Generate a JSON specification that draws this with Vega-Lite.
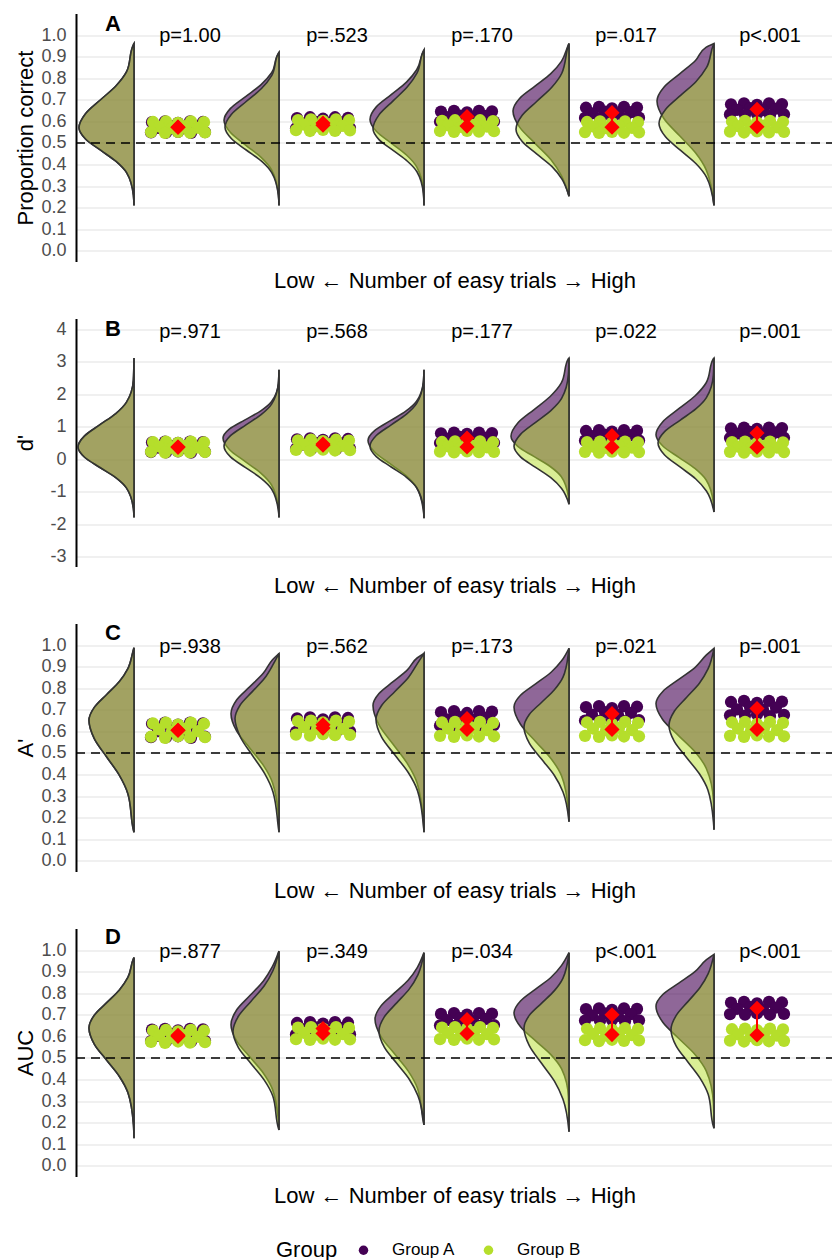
{
"$schema": "https://vega.github.io/schema/vega-lite/v6.json",
"background": "white",
"padding": {"left": 13, "top": 12.5, "right": 0, "bottom": 0},
"bounds": "flush",
"spacing": 57,
"resolve": {"scale": {"x": "independent", "y": "independent", "color": "shared"}, "legend": {"color": "shared"}},
"datasets": {
"vA": [
{"s":"A","b":58,"y":0.21,"x":58},{"s":"A","b":58,"y":0.258,"x":57.4},{"s":"A","b":58,"y":0.362,"x":50.6},{"s":"A","b":58,"y":0.414,"x":40.1},{"s":"A","b":58,"y":0.466,"x":24.6},{"s":"A","b":58,"y":0.518,"x":9.5},{"s":"A","b":58,"y":0.57,"x":3},{"s":"A","b":58,"y":0.635,"x":9.5},{"s":"A","b":58,"y":0.7,"x":24.6},{"s":"A","b":58,"y":0.765,"x":40.1},{"s":"A","b":58,"y":0.83,"x":50.6},{"s":"A","b":58,"y":0.955,"x":57.4},{"s":"A","b":58,"y":0.96,"x":58},
{"s":"B","b":58,"y":0.21,"x":58},{"s":"B","b":58,"y":0.258,"x":57.4},{"s":"B","b":58,"y":0.362,"x":50.6},{"s":"B","b":58,"y":0.414,"x":40.1},{"s":"B","b":58,"y":0.466,"x":24.6},{"s":"B","b":58,"y":0.518,"x":9.5},{"s":"B","b":58,"y":0.57,"x":3},{"s":"B","b":58,"y":0.635,"x":9.5},{"s":"B","b":58,"y":0.7,"x":24.6},{"s":"B","b":58,"y":0.765,"x":40.1},{"s":"B","b":58,"y":0.83,"x":50.6},{"s":"B","b":58,"y":0.955,"x":57.4},{"s":"B","b":58,"y":0.96,"x":58},
{"s":"A","b":203,"y":0.21,"x":203},{"s":"A","b":203,"y":0.26,"x":202.4},{"s":"A","b":203,"y":0.375,"x":195.6},{"s":"A","b":203,"y":0.433,"x":185.1},{"s":"A","b":203,"y":0.49,"x":169.6},{"s":"A","b":203,"y":0.548,"x":154.5},{"s":"A","b":203,"y":0.605,"x":148},{"s":"A","b":203,"y":0.66,"x":154.5},{"s":"A","b":203,"y":0.715,"x":169.6},{"s":"A","b":203,"y":0.77,"x":185.1},{"s":"A","b":203,"y":0.825,"x":195.6},{"s":"A","b":203,"y":0.915,"x":202.4},{"s":"A","b":203,"y":0.919,"x":203},
{"s":"B","b":203,"y":0.21,"x":203},{"s":"B","b":203,"y":0.257,"x":202.4},{"s":"B","b":203,"y":0.362,"x":195.7},{"s":"B","b":203,"y":0.415,"x":185.5},{"s":"B","b":203,"y":0.467,"x":170.2},{"s":"B","b":203,"y":0.52,"x":155.3},{"s":"B","b":203,"y":0.572,"x":149},{"s":"B","b":203,"y":0.632,"x":155.3},{"s":"B","b":203,"y":0.692,"x":170.2},{"s":"B","b":203,"y":0.752,"x":185.5},{"s":"B","b":203,"y":0.812,"x":195.7},{"s":"B","b":203,"y":0.915,"x":202.4},{"s":"B","b":203,"y":0.919,"x":203},
{"s":"A","b":348,"y":0.21,"x":348},{"s":"A","b":348,"y":0.279,"x":347.4},{"s":"A","b":348,"y":0.389,"x":340.7},{"s":"A","b":348,"y":0.444,"x":330.5},{"s":"A","b":348,"y":0.499,"x":315.2},{"s":"A","b":348,"y":0.554,"x":300.3},{"s":"A","b":348,"y":0.609,"x":294},{"s":"A","b":348,"y":0.667,"x":300.3},{"s":"A","b":348,"y":0.724,"x":315.2},{"s":"A","b":348,"y":0.782,"x":330.5},{"s":"A","b":348,"y":0.839,"x":340.7},{"s":"A","b":348,"y":0.925,"x":347.4},{"s":"A","b":348,"y":0.93,"x":348},
{"s":"B","b":348,"y":0.21,"x":348},{"s":"B","b":348,"y":0.265,"x":347.4},{"s":"B","b":348,"y":0.365,"x":341.1},{"s":"B","b":348,"y":0.415,"x":331.4},{"s":"B","b":348,"y":0.465,"x":317.1},{"s":"B","b":348,"y":0.515,"x":303},{"s":"B","b":348,"y":0.565,"x":297},{"s":"B","b":348,"y":0.63,"x":303},{"s":"B","b":348,"y":0.695,"x":317.1},{"s":"B","b":348,"y":0.76,"x":331.4},{"s":"B","b":348,"y":0.825,"x":341.1},{"s":"B","b":348,"y":0.925,"x":347.4},{"s":"B","b":348,"y":0.93,"x":348},
{"s":"A","b":493,"y":0.253,"x":493},{"s":"A","b":493,"y":0.348,"x":485.4},{"s":"A","b":493,"y":0.423,"x":474.8},{"s":"A","b":493,"y":0.498,"x":459},{"s":"A","b":493,"y":0.573,"x":443.6},{"s":"A","b":493,"y":0.648,"x":437},{"s":"A","b":493,"y":0.706,"x":443.6},{"s":"A","b":493,"y":0.763,"x":459},{"s":"A","b":493,"y":0.821,"x":474.8},{"s":"A","b":493,"y":0.878,"x":485.4},{"s":"A","b":493,"y":0.955,"x":492.4},{"s":"A","b":493,"y":0.961,"x":493},
{"s":"B","b":493,"y":0.253,"x":493},{"s":"B","b":493,"y":0.333,"x":485.8},{"s":"B","b":493,"y":0.391,"x":475.8},{"s":"B","b":493,"y":0.448,"x":460.9},{"s":"B","b":493,"y":0.506,"x":446.2},{"s":"B","b":493,"y":0.563,"x":440},{"s":"B","b":493,"y":0.628,"x":446.2},{"s":"B","b":493,"y":0.693,"x":460.9},{"s":"B","b":493,"y":0.758,"x":475.8},{"s":"B","b":493,"y":0.823,"x":485.8},{"s":"B","b":493,"y":0.953,"x":492.4},{"s":"B","b":493,"y":0.961,"x":493},
{"s":"A","b":638,"y":0.21,"x":638},{"s":"A","b":638,"y":0.374,"x":630.3},{"s":"A","b":638,"y":0.454,"x":619.5},{"s":"A","b":638,"y":0.534,"x":603.4},{"s":"A","b":638,"y":0.614,"x":587.7},{"s":"A","b":638,"y":0.694,"x":581},{"s":"A","b":638,"y":0.757,"x":587.7},{"s":"A","b":638,"y":0.819,"x":603.4},{"s":"A","b":638,"y":0.882,"x":619.5},{"s":"A","b":638,"y":0.944,"x":630.3},{"s":"A","b":638,"y":0.961,"x":638},
{"s":"B","b":638,"y":0.21,"x":638},{"s":"B","b":638,"y":0.34,"x":630.6},{"s":"B","b":638,"y":0.403,"x":620.1},{"s":"B","b":638,"y":0.465,"x":604.6},{"s":"B","b":638,"y":0.528,"x":589.5},{"s":"B","b":638,"y":0.59,"x":583},{"s":"B","b":638,"y":0.655,"x":589.5},{"s":"B","b":638,"y":0.72,"x":604.6},{"s":"B","b":638,"y":0.785,"x":620.1},{"s":"B","b":638,"y":0.85,"x":630.6},{"s":"B","b":638,"y":0.955,"x":637.4},{"s":"B","b":638,"y":0.961,"x":638}
],
"vB": [
{"s":"A","b":58,"y":-1.8,"x":58},{"s":"A","b":58,"y":-1.516,"x":57.4},{"s":"A","b":58,"y":-0.886,"x":50.4},{"s":"A","b":58,"y":-0.571,"x":39.8},{"s":"A","b":58,"y":-0.256,"x":24},{"s":"A","b":58,"y":0.059,"x":8.6},{"s":"A","b":58,"y":0.374,"x":2},{"s":"A","b":58,"y":0.719,"x":8.6},{"s":"A","b":58,"y":1.064,"x":24},{"s":"A","b":58,"y":1.409,"x":39.8},{"s":"A","b":58,"y":1.754,"x":50.4},{"s":"A","b":58,"y":2.444,"x":57.4},{"s":"A","b":58,"y":3.12,"x":58},
{"s":"B","b":58,"y":-1.8,"x":58},{"s":"B","b":58,"y":-1.516,"x":57.4},{"s":"B","b":58,"y":-0.886,"x":50.4},{"s":"B","b":58,"y":-0.571,"x":39.8},{"s":"B","b":58,"y":-0.256,"x":24},{"s":"B","b":58,"y":0.059,"x":8.6},{"s":"B","b":58,"y":0.374,"x":2},{"s":"B","b":58,"y":0.719,"x":8.6},{"s":"B","b":58,"y":1.064,"x":24},{"s":"B","b":58,"y":1.409,"x":39.8},{"s":"B","b":58,"y":1.754,"x":50.4},{"s":"B","b":58,"y":2.444,"x":57.4},{"s":"B","b":58,"y":3.12,"x":58},
{"s":"A","b":203,"y":-1.8,"x":203},{"s":"A","b":203,"y":-1.508,"x":202.4},{"s":"A","b":203,"y":-0.788,"x":195.4},{"s":"A","b":203,"y":-0.428,"x":184.8},{"s":"A","b":203,"y":-0.068,"x":169},{"s":"A","b":203,"y":0.292,"x":153.6},{"s":"A","b":203,"y":0.652,"x":147},{"s":"A","b":203,"y":0.932,"x":153.6},{"s":"A","b":203,"y":1.212,"x":169},{"s":"A","b":203,"y":1.492,"x":184.8},{"s":"A","b":203,"y":1.772,"x":195.4},{"s":"A","b":203,"y":2.332,"x":202.4},{"s":"A","b":203,"y":2.76,"x":203},
{"s":"B","b":203,"y":-1.8,"x":203},{"s":"B","b":203,"y":-1.58,"x":202.4},{"s":"B","b":203,"y":-0.92,"x":195.6},{"s":"B","b":203,"y":-0.59,"x":185.1},{"s":"B","b":203,"y":-0.26,"x":169.6},{"s":"B","b":203,"y":0.07,"x":154.5},{"s":"B","b":203,"y":0.4,"x":148},{"s":"B","b":203,"y":0.725,"x":154.5},{"s":"B","b":203,"y":1.05,"x":169.6},{"s":"B","b":203,"y":1.375,"x":185.1},{"s":"B","b":203,"y":1.7,"x":195.6},{"s":"B","b":203,"y":2.35,"x":202.4},{"s":"B","b":203,"y":2.76,"x":203},
{"s":"A","b":348,"y":-1.82,"x":348},{"s":"A","b":348,"y":-1.58,"x":347.4},{"s":"A","b":348,"y":-0.86,"x":340.4},{"s":"A","b":348,"y":-0.5,"x":329.8},{"s":"A","b":348,"y":-0.14,"x":314},{"s":"A","b":348,"y":0.22,"x":298.6},{"s":"A","b":348,"y":0.58,"x":292},{"s":"A","b":348,"y":0.88,"x":298.6},{"s":"A","b":348,"y":1.18,"x":314},{"s":"A","b":348,"y":1.48,"x":329.8},{"s":"A","b":348,"y":1.78,"x":340.4},{"s":"A","b":348,"y":2.38,"x":347.4},{"s":"A","b":348,"y":2.76,"x":348},
{"s":"B","b":348,"y":-1.82,"x":348},{"s":"B","b":348,"y":-1.52,"x":347.4},{"s":"B","b":348,"y":-0.88,"x":340.7},{"s":"B","b":348,"y":-0.56,"x":330.5},{"s":"B","b":348,"y":-0.24,"x":315.2},{"s":"B","b":348,"y":0.08,"x":300.3},{"s":"B","b":348,"y":0.4,"x":294},{"s":"B","b":348,"y":0.73,"x":300.3},{"s":"B","b":348,"y":1.06,"x":315.2},{"s":"B","b":348,"y":1.39,"x":330.5},{"s":"B","b":348,"y":1.72,"x":340.7},{"s":"B","b":348,"y":2.38,"x":347.4},{"s":"B","b":348,"y":2.76,"x":348},
{"s":"A","b":493,"y":-1.39,"x":493},{"s":"A","b":493,"y":-1.155,"x":492.4},{"s":"A","b":493,"y":-0.535,"x":485.2},{"s":"A","b":493,"y":-0.225,"x":474.2},{"s":"A","b":493,"y":0.085,"x":457.8},{"s":"A","b":493,"y":0.395,"x":441.8},{"s":"A","b":493,"y":0.705,"x":435},{"s":"A","b":493,"y":1.115,"x":441.8},{"s":"A","b":493,"y":1.525,"x":457.8},{"s":"A","b":493,"y":1.935,"x":474.2},{"s":"A","b":493,"y":2.345,"x":485.2},{"s":"A","b":493,"y":3.1,"x":492.4},{"s":"A","b":493,"y":3.12,"x":493},
{"s":"B","b":493,"y":-1.39,"x":493},{"s":"B","b":493,"y":-0.904,"x":485.6},{"s":"B","b":493,"y":-0.579,"x":475.1},{"s":"B","b":493,"y":-0.254,"x":459.6},{"s":"B","b":493,"y":0.071,"x":444.5},{"s":"B","b":493,"y":0.396,"x":438},{"s":"B","b":493,"y":0.766,"x":444.5},{"s":"B","b":493,"y":1.136,"x":459.6},{"s":"B","b":493,"y":1.506,"x":475.1},{"s":"B","b":493,"y":1.876,"x":485.6},{"s":"B","b":493,"y":2.616,"x":492.4},{"s":"B","b":493,"y":3.12,"x":493},
{"s":"A","b":638,"y":-1.63,"x":638},{"s":"A","b":638,"y":-1.343,"x":637.4},{"s":"A","b":638,"y":-0.643,"x":630.2},{"s":"A","b":638,"y":-0.293,"x":619.2},{"s":"A","b":638,"y":0.057,"x":602.8},{"s":"A","b":638,"y":0.407,"x":586.8},{"s":"A","b":638,"y":0.757,"x":580},{"s":"A","b":638,"y":1.157,"x":586.8},{"s":"A","b":638,"y":1.557,"x":602.8},{"s":"A","b":638,"y":1.957,"x":619.2},{"s":"A","b":638,"y":2.357,"x":630.2},{"s":"A","b":638,"y":3.1,"x":637.4},{"s":"A","b":638,"y":3.12,"x":638},
{"s":"B","b":638,"y":-1.63,"x":638},{"s":"B","b":638,"y":-0.98,"x":630.4},{"s":"B","b":638,"y":-0.61,"x":619.8},{"s":"B","b":638,"y":-0.24,"x":604},{"s":"B","b":638,"y":0.13,"x":588.6},{"s":"B","b":638,"y":0.5,"x":582},{"s":"B","b":638,"y":0.85,"x":588.6},{"s":"B","b":638,"y":1.2,"x":604},{"s":"B","b":638,"y":1.55,"x":619.8},{"s":"B","b":638,"y":1.9,"x":630.4},{"s":"B","b":638,"y":2.6,"x":637.4},{"s":"B","b":638,"y":3.12,"x":638}
],
"vC": [
{"s":"A","b":58,"y":0.132,"x":58},{"s":"A","b":58,"y":0.141,"x":57.5},{"s":"A","b":58,"y":0.311,"x":51.9},{"s":"A","b":58,"y":0.396,"x":43.4},{"s":"A","b":58,"y":0.481,"x":30.7},{"s":"A","b":58,"y":0.566,"x":18.3},{"s":"A","b":58,"y":0.651,"x":13},{"s":"A","b":58,"y":0.711,"x":18.3},{"s":"A","b":58,"y":0.771,"x":30.7},{"s":"A","b":58,"y":0.831,"x":43.4},{"s":"A","b":58,"y":0.891,"x":51.9},{"s":"A","b":58,"y":0.98,"x":57.5},{"s":"A","b":58,"y":0.988,"x":58},
{"s":"B","b":58,"y":0.132,"x":58},{"s":"B","b":58,"y":0.141,"x":57.5},{"s":"B","b":58,"y":0.311,"x":51.9},{"s":"B","b":58,"y":0.396,"x":43.4},{"s":"B","b":58,"y":0.481,"x":30.7},{"s":"B","b":58,"y":0.566,"x":18.3},{"s":"B","b":58,"y":0.651,"x":13},{"s":"B","b":58,"y":0.711,"x":18.3},{"s":"B","b":58,"y":0.771,"x":30.7},{"s":"B","b":58,"y":0.831,"x":43.4},{"s":"B","b":58,"y":0.891,"x":51.9},{"s":"B","b":58,"y":0.98,"x":57.5},{"s":"B","b":58,"y":0.988,"x":58},
{"s":"A","b":203,"y":0.132,"x":203},{"s":"A","b":203,"y":0.202,"x":202.5},{"s":"A","b":203,"y":0.362,"x":196.5},{"s":"A","b":203,"y":0.442,"x":187.4},{"s":"A","b":203,"y":0.522,"x":173.9},{"s":"A","b":203,"y":0.602,"x":160.6},{"s":"A","b":203,"y":0.682,"x":155},{"s":"A","b":203,"y":0.745,"x":160.6},{"s":"A","b":203,"y":0.807,"x":173.9},{"s":"A","b":203,"y":0.87,"x":187.4},{"s":"A","b":203,"y":0.932,"x":196.5},{"s":"A","b":203,"y":0.961,"x":203},
{"s":"B","b":203,"y":0.132,"x":203},{"s":"B","b":203,"y":0.149,"x":202.5},{"s":"B","b":203,"y":0.319,"x":197},{"s":"B","b":203,"y":0.404,"x":188.7},{"s":"B","b":203,"y":0.489,"x":176.3},{"s":"B","b":203,"y":0.575,"x":164.2},{"s":"B","b":203,"y":0.659,"x":159},{"s":"B","b":203,"y":0.722,"x":164.2},{"s":"B","b":203,"y":0.784,"x":176.3},{"s":"B","b":203,"y":0.847,"x":188.7},{"s":"B","b":203,"y":0.909,"x":197},{"s":"B","b":203,"y":0.961,"x":203},
{"s":"A","b":348,"y":0.132,"x":348},{"s":"A","b":348,"y":0.18,"x":347.4},{"s":"A","b":348,"y":0.36,"x":341.1},{"s":"A","b":348,"y":0.45,"x":331.4},{"s":"A","b":348,"y":0.54,"x":317.1},{"s":"A","b":348,"y":0.63,"x":303},{"s":"A","b":348,"y":0.72,"x":297},{"s":"A","b":348,"y":0.775,"x":303},{"s":"A","b":348,"y":0.83,"x":317.1},{"s":"A","b":348,"y":0.885,"x":331.4},{"s":"A","b":348,"y":0.94,"x":341.1},{"s":"A","b":348,"y":0.961,"x":348},
{"s":"B","b":348,"y":0.132,"x":348},{"s":"B","b":348,"y":0.16,"x":347.5},{"s":"B","b":348,"y":0.325,"x":341.5},{"s":"B","b":348,"y":0.408,"x":332.4},{"s":"B","b":348,"y":0.49,"x":318.9},{"s":"B","b":348,"y":0.573,"x":305.6},{"s":"B","b":348,"y":0.655,"x":300},{"s":"B","b":348,"y":0.72,"x":305.6},{"s":"B","b":348,"y":0.785,"x":318.9},{"s":"B","b":348,"y":0.85,"x":332.4},{"s":"B","b":348,"y":0.915,"x":341.5},{"s":"B","b":348,"y":0.961,"x":348},
{"s":"A","b":493,"y":0.181,"x":493},{"s":"A","b":493,"y":0.233,"x":492.4},{"s":"A","b":493,"y":0.393,"x":485.6},{"s":"A","b":493,"y":0.473,"x":475.1},{"s":"A","b":493,"y":0.553,"x":459.6},{"s":"A","b":493,"y":0.633,"x":444.5},{"s":"A","b":493,"y":0.713,"x":438},{"s":"A","b":493,"y":0.767,"x":444.5},{"s":"A","b":493,"y":0.82,"x":459.6},{"s":"A","b":493,"y":0.874,"x":475.1},{"s":"A","b":493,"y":0.927,"x":485.6},{"s":"A","b":493,"y":0.985,"x":493},
{"s":"B","b":493,"y":0.181,"x":493},{"s":"B","b":493,"y":0.32,"x":486.9},{"s":"B","b":493,"y":0.395,"x":478.4},{"s":"B","b":493,"y":0.47,"x":465.7},{"s":"B","b":493,"y":0.545,"x":453.3},{"s":"B","b":493,"y":0.62,"x":448},{"s":"B","b":493,"y":0.678,"x":453.3},{"s":"B","b":493,"y":0.735,"x":465.7},{"s":"B","b":493,"y":0.793,"x":478.4},{"s":"B","b":493,"y":0.85,"x":486.9},{"s":"B","b":493,"y":0.965,"x":492.5},{"s":"B","b":493,"y":0.985,"x":493},
{"s":"A","b":638,"y":0.144,"x":638},{"s":"A","b":638,"y":0.279,"x":637.4},{"s":"A","b":638,"y":0.429,"x":630.2},{"s":"A","b":638,"y":0.504,"x":619.2},{"s":"A","b":638,"y":0.579,"x":602.8},{"s":"A","b":638,"y":0.654,"x":586.8},{"s":"A","b":638,"y":0.729,"x":580},{"s":"A","b":638,"y":0.785,"x":586.8},{"s":"A","b":638,"y":0.841,"x":602.8},{"s":"A","b":638,"y":0.897,"x":619.2},{"s":"A","b":638,"y":0.953,"x":630.2},{"s":"A","b":638,"y":0.985,"x":638},
{"s":"B","b":638,"y":0.144,"x":638},{"s":"B","b":638,"y":0.178,"x":637.5},{"s":"B","b":638,"y":0.328,"x":631.9},{"s":"B","b":638,"y":0.403,"x":623.4},{"s":"B","b":638,"y":0.478,"x":610.7},{"s":"B","b":638,"y":0.553,"x":598.3},{"s":"B","b":638,"y":0.628,"x":593},{"s":"B","b":638,"y":0.693,"x":598.3},{"s":"B","b":638,"y":0.758,"x":610.7},{"s":"B","b":638,"y":0.823,"x":623.4},{"s":"B","b":638,"y":0.888,"x":631.9},{"s":"B","b":638,"y":0.985,"x":638}
],
"vD": [
{"s":"A","b":58,"y":0.127,"x":58},{"s":"A","b":58,"y":0.189,"x":57.5},{"s":"A","b":58,"y":0.339,"x":51.9},{"s":"A","b":58,"y":0.414,"x":43.4},{"s":"A","b":58,"y":0.489,"x":30.7},{"s":"A","b":58,"y":0.564,"x":18.3},{"s":"A","b":58,"y":0.639,"x":13},{"s":"A","b":58,"y":0.698,"x":18.3},{"s":"A","b":58,"y":0.756,"x":30.7},{"s":"A","b":58,"y":0.815,"x":43.4},{"s":"A","b":58,"y":0.873,"x":51.9},{"s":"A","b":58,"y":0.96,"x":57.5},{"s":"A","b":58,"y":0.965,"x":58},
{"s":"B","b":58,"y":0.127,"x":58},{"s":"B","b":58,"y":0.189,"x":57.5},{"s":"B","b":58,"y":0.339,"x":51.9},{"s":"B","b":58,"y":0.414,"x":43.4},{"s":"B","b":58,"y":0.489,"x":30.7},{"s":"B","b":58,"y":0.564,"x":18.3},{"s":"B","b":58,"y":0.639,"x":13},{"s":"B","b":58,"y":0.698,"x":18.3},{"s":"B","b":58,"y":0.756,"x":30.7},{"s":"B","b":58,"y":0.815,"x":43.4},{"s":"B","b":58,"y":0.873,"x":51.9},{"s":"B","b":58,"y":0.96,"x":57.5},{"s":"B","b":58,"y":0.965,"x":58},
{"s":"A","b":203,"y":0.166,"x":203},{"s":"A","b":203,"y":0.204,"x":202.5},{"s":"A","b":203,"y":0.354,"x":196.5},{"s":"A","b":203,"y":0.429,"x":187.4},{"s":"A","b":203,"y":0.504,"x":173.9},{"s":"A","b":203,"y":0.579,"x":160.6},{"s":"A","b":203,"y":0.654,"x":155},{"s":"A","b":203,"y":0.722,"x":160.6},{"s":"A","b":203,"y":0.789,"x":173.9},{"s":"A","b":203,"y":0.857,"x":187.4},{"s":"A","b":203,"y":0.924,"x":196.5},{"s":"A","b":203,"y":0.995,"x":203},
{"s":"B","b":203,"y":0.166,"x":203},{"s":"B","b":203,"y":0.173,"x":202.5},{"s":"B","b":203,"y":0.323,"x":196.8},{"s":"B","b":203,"y":0.398,"x":188.1},{"s":"B","b":203,"y":0.473,"x":175.1},{"s":"B","b":203,"y":0.548,"x":162.4},{"s":"B","b":203,"y":0.623,"x":157},{"s":"B","b":203,"y":0.693,"x":162.4},{"s":"B","b":203,"y":0.763,"x":175.1},{"s":"B","b":203,"y":0.833,"x":188.1},{"s":"B","b":203,"y":0.903,"x":196.8},{"s":"B","b":203,"y":0.995,"x":203},
{"s":"A","b":348,"y":0.189,"x":348},{"s":"A","b":348,"y":0.2,"x":347.5},{"s":"A","b":348,"y":0.36,"x":341.4},{"s":"A","b":348,"y":0.44,"x":332.1},{"s":"A","b":348,"y":0.52,"x":318.3},{"s":"A","b":348,"y":0.6,"x":304.8},{"s":"A","b":348,"y":0.68,"x":299},{"s":"A","b":348,"y":0.74,"x":304.8},{"s":"A","b":348,"y":0.8,"x":318.3},{"s":"A","b":348,"y":0.86,"x":332.1},{"s":"A","b":348,"y":0.92,"x":341.4},{"s":"A","b":348,"y":0.988,"x":348},
{"s":"B","b":348,"y":0.189,"x":348},{"s":"B","b":348,"y":0.325,"x":341.9},{"s":"B","b":348,"y":0.4,"x":333.4},{"s":"B","b":348,"y":0.475,"x":320.7},{"s":"B","b":348,"y":0.55,"x":308.3},{"s":"B","b":348,"y":0.625,"x":303},{"s":"B","b":348,"y":0.69,"x":308.3},{"s":"B","b":348,"y":0.755,"x":320.7},{"s":"B","b":348,"y":0.82,"x":333.4},{"s":"B","b":348,"y":0.885,"x":341.9},{"s":"B","b":348,"y":0.988,"x":348},
{"s":"A","b":493,"y":0.158,"x":493},{"s":"A","b":493,"y":0.319,"x":492.4},{"s":"A","b":493,"y":0.449,"x":485.6},{"s":"A","b":493,"y":0.514,"x":475.1},{"s":"A","b":493,"y":0.579,"x":459.6},{"s":"A","b":493,"y":0.644,"x":444.5},{"s":"A","b":493,"y":0.709,"x":438},{"s":"A","b":493,"y":0.764,"x":444.5},{"s":"A","b":493,"y":0.819,"x":459.6},{"s":"A","b":493,"y":0.874,"x":475.1},{"s":"A","b":493,"y":0.929,"x":485.6},{"s":"A","b":493,"y":0.988,"x":493},
{"s":"B","b":493,"y":0.158,"x":493},{"s":"B","b":493,"y":0.309,"x":486.9},{"s":"B","b":493,"y":0.392,"x":478.4},{"s":"B","b":493,"y":0.474,"x":465.7},{"s":"B","b":493,"y":0.557,"x":453.3},{"s":"B","b":493,"y":0.639,"x":448},{"s":"B","b":493,"y":0.697,"x":453.3},{"s":"B","b":493,"y":0.754,"x":465.7},{"s":"B","b":493,"y":0.812,"x":478.4},{"s":"B","b":493,"y":0.869,"x":486.9},{"s":"B","b":493,"y":0.988,"x":493},
{"s":"A","b":638,"y":0.174,"x":638},{"s":"A","b":638,"y":0.29,"x":637.4},{"s":"A","b":638,"y":0.44,"x":630.2},{"s":"A","b":638,"y":0.515,"x":619.2},{"s":"A","b":638,"y":0.59,"x":602.8},{"s":"A","b":638,"y":0.665,"x":586.8},{"s":"A","b":638,"y":0.74,"x":580},{"s":"A","b":638,"y":0.794,"x":586.8},{"s":"A","b":638,"y":0.847,"x":602.8},{"s":"A","b":638,"y":0.901,"x":619.2},{"s":"A","b":638,"y":0.954,"x":630.2},{"s":"A","b":638,"y":0.98,"x":638},
{"s":"B","b":638,"y":0.174,"x":638},{"s":"B","b":638,"y":0.181,"x":637.5},{"s":"B","b":638,"y":0.331,"x":632.2},{"s":"B","b":638,"y":0.406,"x":624},{"s":"B","b":638,"y":0.481,"x":611.9},{"s":"B","b":638,"y":0.556,"x":600.1},{"s":"B","b":638,"y":0.631,"x":595},{"s":"B","b":638,"y":0.696,"x":600.1},{"s":"B","b":638,"y":0.761,"x":611.9},{"s":"B","b":638,"y":0.826,"x":624},{"s":"B","b":638,"y":0.891,"x":632.2},{"s":"B","b":638,"y":0.98,"x":638}
],
"pA": [
{"s":"A","x":127,"y":0.597},{"s":"A","x":114,"y":0.6},{"s":"A","x":102,"y":0.593},{"s":"A","x":89,"y":0.6},{"s":"A","x":76,"y":0.596},{"s":"A","x":121,"y":0.576},{"s":"A","x":108,"y":0.569},{"s":"A","x":95,"y":0.578},{"s":"A","x":82,"y":0.57},{"s":"A","x":129,"y":0.55},{"s":"A","x":115,"y":0.546},{"s":"A","x":102,"y":0.551},{"s":"A","x":90,"y":0.547},{"s":"A","x":75,"y":0.549},
{"s":"A","x":272,"y":0.616},{"s":"A","x":259,"y":0.619},{"s":"A","x":247,"y":0.612},{"s":"A","x":234,"y":0.619},{"s":"A","x":221,"y":0.615},{"s":"A","x":266,"y":0.595},{"s":"A","x":253,"y":0.588},{"s":"A","x":240,"y":0.597},{"s":"A","x":227,"y":0.589},{"s":"A","x":274,"y":0.569},{"s":"A","x":260,"y":0.565},{"s":"A","x":247,"y":0.57},{"s":"A","x":235,"y":0.566},{"s":"A","x":220,"y":0.568},
{"s":"A","x":416,"y":0.646},{"s":"A","x":403,"y":0.649},{"s":"A","x":391,"y":0.642},{"s":"A","x":378,"y":0.649},{"s":"A","x":365,"y":0.645},{"s":"A","x":410,"y":0.625},{"s":"A","x":397,"y":0.618},{"s":"A","x":384,"y":0.627},{"s":"A","x":371,"y":0.619},{"s":"A","x":418,"y":0.599},{"s":"A","x":404,"y":0.595},{"s":"A","x":391,"y":0.6},{"s":"A","x":379,"y":0.596},{"s":"A","x":364,"y":0.598},
{"s":"A","x":561,"y":0.664},{"s":"A","x":548,"y":0.667},{"s":"A","x":536,"y":0.66},{"s":"A","x":523,"y":0.667},{"s":"A","x":510,"y":0.663},{"s":"A","x":555,"y":0.643},{"s":"A","x":542,"y":0.636},{"s":"A","x":529,"y":0.645},{"s":"A","x":516,"y":0.637},{"s":"A","x":563,"y":0.617},{"s":"A","x":549,"y":0.613},{"s":"A","x":536,"y":0.618},{"s":"A","x":524,"y":0.614},{"s":"A","x":509,"y":0.616},
{"s":"A","x":706,"y":0.68},{"s":"A","x":693,"y":0.683},{"s":"A","x":681,"y":0.676},{"s":"A","x":668,"y":0.683},{"s":"A","x":655,"y":0.679},{"s":"A","x":700,"y":0.659},{"s":"A","x":687,"y":0.652},{"s":"A","x":674,"y":0.661},{"s":"A","x":661,"y":0.653},{"s":"A","x":708,"y":0.633},{"s":"A","x":694,"y":0.629},{"s":"A","x":681,"y":0.634},{"s":"A","x":669,"y":0.63},{"s":"A","x":654,"y":0.632},
{"s":"B","x":77,"y":0.597},{"s":"B","x":90,"y":0.6},{"s":"B","x":102,"y":0.593},{"s":"B","x":115,"y":0.6},{"s":"B","x":128,"y":0.596},{"s":"B","x":83,"y":0.576},{"s":"B","x":96,"y":0.569},{"s":"B","x":109,"y":0.578},{"s":"B","x":122,"y":0.57},{"s":"B","x":75,"y":0.55},{"s":"B","x":89,"y":0.546},{"s":"B","x":102,"y":0.551},{"s":"B","x":114,"y":0.547},{"s":"B","x":129,"y":0.549},
{"s":"B","x":222,"y":0.606},{"s":"B","x":235,"y":0.609},{"s":"B","x":247,"y":0.602},{"s":"B","x":260,"y":0.609},{"s":"B","x":273,"y":0.605},{"s":"B","x":228,"y":0.585},{"s":"B","x":241,"y":0.578},{"s":"B","x":254,"y":0.587},{"s":"B","x":267,"y":0.579},{"s":"B","x":220,"y":0.559},{"s":"B","x":234,"y":0.555},{"s":"B","x":247,"y":0.56},{"s":"B","x":259,"y":0.556},{"s":"B","x":274,"y":0.558},
{"s":"B","x":366,"y":0.602},{"s":"B","x":379,"y":0.605},{"s":"B","x":391,"y":0.598},{"s":"B","x":404,"y":0.605},{"s":"B","x":417,"y":0.601},{"s":"B","x":372,"y":0.581},{"s":"B","x":385,"y":0.574},{"s":"B","x":398,"y":0.583},{"s":"B","x":411,"y":0.575},{"s":"B","x":364,"y":0.555},{"s":"B","x":378,"y":0.551},{"s":"B","x":391,"y":0.556},{"s":"B","x":403,"y":0.552},{"s":"B","x":418,"y":0.554},
{"s":"B","x":511,"y":0.597},{"s":"B","x":524,"y":0.6},{"s":"B","x":536,"y":0.593},{"s":"B","x":549,"y":0.6},{"s":"B","x":562,"y":0.596},{"s":"B","x":517,"y":0.576},{"s":"B","x":530,"y":0.569},{"s":"B","x":543,"y":0.578},{"s":"B","x":556,"y":0.57},{"s":"B","x":509,"y":0.55},{"s":"B","x":523,"y":0.546},{"s":"B","x":536,"y":0.551},{"s":"B","x":548,"y":0.547},{"s":"B","x":563,"y":0.549},
{"s":"B","x":656,"y":0.599},{"s":"B","x":669,"y":0.602},{"s":"B","x":681,"y":0.595},{"s":"B","x":694,"y":0.602},{"s":"B","x":707,"y":0.598},{"s":"B","x":662,"y":0.578},{"s":"B","x":675,"y":0.571},{"s":"B","x":688,"y":0.58},{"s":"B","x":701,"y":0.572},{"s":"B","x":654,"y":0.552},{"s":"B","x":668,"y":0.548},{"s":"B","x":681,"y":0.553},{"s":"B","x":693,"y":0.549},{"s":"B","x":708,"y":0.551}
],
"pB": [
{"s":"A","x":127,"y":0.527},{"s":"A","x":114,"y":0.544},{"s":"A","x":102,"y":0.502},{"s":"A","x":89,"y":0.544},{"s":"A","x":76,"y":0.519},{"s":"A","x":121,"y":0.391},{"s":"A","x":108,"y":0.348},{"s":"A","x":95,"y":0.408},{"s":"A","x":82,"y":0.357},{"s":"A","x":129,"y":0.229},{"s":"A","x":115,"y":0.204},{"s":"A","x":102,"y":0.238},{"s":"A","x":90,"y":0.212},{"s":"A","x":75,"y":0.221},
{"s":"A","x":272,"y":0.623},{"s":"A","x":259,"y":0.64},{"s":"A","x":247,"y":0.598},{"s":"A","x":234,"y":0.64},{"s":"A","x":221,"y":0.615},{"s":"A","x":266,"y":0.487},{"s":"A","x":253,"y":0.444},{"s":"A","x":240,"y":0.504},{"s":"A","x":227,"y":0.453},{"s":"A","x":274,"y":0.325},{"s":"A","x":260,"y":0.3},{"s":"A","x":247,"y":0.334},{"s":"A","x":235,"y":0.308},{"s":"A","x":220,"y":0.317},
{"s":"A","x":416,"y":0.805},{"s":"A","x":403,"y":0.822},{"s":"A","x":391,"y":0.78},{"s":"A","x":378,"y":0.822},{"s":"A","x":365,"y":0.797},{"s":"A","x":410,"y":0.669},{"s":"A","x":397,"y":0.626},{"s":"A","x":384,"y":0.686},{"s":"A","x":371,"y":0.635},{"s":"A","x":418,"y":0.507},{"s":"A","x":404,"y":0.482},{"s":"A","x":391,"y":0.516},{"s":"A","x":379,"y":0.49},{"s":"A","x":364,"y":0.499},
{"s":"A","x":561,"y":0.879},{"s":"A","x":548,"y":0.896},{"s":"A","x":536,"y":0.854},{"s":"A","x":523,"y":0.896},{"s":"A","x":510,"y":0.871},{"s":"A","x":555,"y":0.743},{"s":"A","x":542,"y":0.7},{"s":"A","x":529,"y":0.76},{"s":"A","x":516,"y":0.709},{"s":"A","x":563,"y":0.581},{"s":"A","x":549,"y":0.556},{"s":"A","x":536,"y":0.59},{"s":"A","x":524,"y":0.564},{"s":"A","x":509,"y":0.573},
{"s":"A","x":706,"y":0.96},{"s":"A","x":693,"y":0.977},{"s":"A","x":681,"y":0.935},{"s":"A","x":668,"y":0.977},{"s":"A","x":655,"y":0.952},{"s":"A","x":700,"y":0.824},{"s":"A","x":687,"y":0.781},{"s":"A","x":674,"y":0.841},{"s":"A","x":661,"y":0.79},{"s":"A","x":708,"y":0.662},{"s":"A","x":694,"y":0.637},{"s":"A","x":681,"y":0.671},{"s":"A","x":669,"y":0.645},{"s":"A","x":654,"y":0.654},
{"s":"B","x":77,"y":0.527},{"s":"B","x":90,"y":0.544},{"s":"B","x":102,"y":0.502},{"s":"B","x":115,"y":0.544},{"s":"B","x":128,"y":0.519},{"s":"B","x":83,"y":0.391},{"s":"B","x":96,"y":0.348},{"s":"B","x":109,"y":0.408},{"s":"B","x":122,"y":0.357},{"s":"B","x":75,"y":0.229},{"s":"B","x":89,"y":0.204},{"s":"B","x":102,"y":0.238},{"s":"B","x":114,"y":0.212},{"s":"B","x":129,"y":0.221},
{"s":"B","x":222,"y":0.583},{"s":"B","x":235,"y":0.6},{"s":"B","x":247,"y":0.558},{"s":"B","x":260,"y":0.6},{"s":"B","x":273,"y":0.575},{"s":"B","x":228,"y":0.447},{"s":"B","x":241,"y":0.404},{"s":"B","x":254,"y":0.464},{"s":"B","x":267,"y":0.413},{"s":"B","x":220,"y":0.285},{"s":"B","x":234,"y":0.26},{"s":"B","x":247,"y":0.294},{"s":"B","x":259,"y":0.268},{"s":"B","x":274,"y":0.277},
{"s":"B","x":366,"y":0.531},{"s":"B","x":379,"y":0.548},{"s":"B","x":391,"y":0.506},{"s":"B","x":404,"y":0.548},{"s":"B","x":417,"y":0.523},{"s":"B","x":372,"y":0.395},{"s":"B","x":385,"y":0.352},{"s":"B","x":398,"y":0.412},{"s":"B","x":411,"y":0.361},{"s":"B","x":364,"y":0.233},{"s":"B","x":378,"y":0.208},{"s":"B","x":391,"y":0.242},{"s":"B","x":403,"y":0.216},{"s":"B","x":418,"y":0.225},
{"s":"B","x":511,"y":0.525},{"s":"B","x":524,"y":0.542},{"s":"B","x":536,"y":0.5},{"s":"B","x":549,"y":0.542},{"s":"B","x":562,"y":0.517},{"s":"B","x":517,"y":0.389},{"s":"B","x":530,"y":0.346},{"s":"B","x":543,"y":0.406},{"s":"B","x":556,"y":0.355},{"s":"B","x":509,"y":0.227},{"s":"B","x":523,"y":0.202},{"s":"B","x":536,"y":0.236},{"s":"B","x":548,"y":0.21},{"s":"B","x":563,"y":0.219},
{"s":"B","x":656,"y":0.525},{"s":"B","x":669,"y":0.542},{"s":"B","x":681,"y":0.5},{"s":"B","x":694,"y":0.542},{"s":"B","x":707,"y":0.517},{"s":"B","x":662,"y":0.389},{"s":"B","x":675,"y":0.346},{"s":"B","x":688,"y":0.406},{"s":"B","x":701,"y":0.355},{"s":"B","x":654,"y":0.227},{"s":"B","x":668,"y":0.202},{"s":"B","x":681,"y":0.236},{"s":"B","x":693,"y":0.21},{"s":"B","x":708,"y":0.219}
],
"pC": [
{"s":"A","x":127,"y":0.637},{"s":"A","x":114,"y":0.64},{"s":"A","x":102,"y":0.631},{"s":"A","x":89,"y":0.64},{"s":"A","x":76,"y":0.635},{"s":"A","x":121,"y":0.609},{"s":"A","x":108,"y":0.6},{"s":"A","x":95,"y":0.612},{"s":"A","x":82,"y":0.601},{"s":"A","x":129,"y":0.575},{"s":"A","x":115,"y":0.57},{"s":"A","x":102,"y":0.577},{"s":"A","x":90,"y":0.572},{"s":"A","x":75,"y":0.573},
{"s":"A","x":272,"y":0.662},{"s":"A","x":259,"y":0.665},{"s":"A","x":247,"y":0.656},{"s":"A","x":234,"y":0.665},{"s":"A","x":221,"y":0.66},{"s":"A","x":266,"y":0.634},{"s":"A","x":253,"y":0.625},{"s":"A","x":240,"y":0.637},{"s":"A","x":227,"y":0.626},{"s":"A","x":274,"y":0.6},{"s":"A","x":260,"y":0.595},{"s":"A","x":247,"y":0.602},{"s":"A","x":235,"y":0.597},{"s":"A","x":220,"y":0.598},
{"s":"A","x":416,"y":0.691},{"s":"A","x":403,"y":0.694},{"s":"A","x":391,"y":0.685},{"s":"A","x":378,"y":0.694},{"s":"A","x":365,"y":0.689},{"s":"A","x":410,"y":0.663},{"s":"A","x":397,"y":0.654},{"s":"A","x":384,"y":0.666},{"s":"A","x":371,"y":0.655},{"s":"A","x":418,"y":0.629},{"s":"A","x":404,"y":0.624},{"s":"A","x":391,"y":0.631},{"s":"A","x":379,"y":0.626},{"s":"A","x":364,"y":0.627},
{"s":"A","x":561,"y":0.714},{"s":"A","x":548,"y":0.717},{"s":"A","x":536,"y":0.708},{"s":"A","x":523,"y":0.717},{"s":"A","x":510,"y":0.712},{"s":"A","x":555,"y":0.686},{"s":"A","x":542,"y":0.677},{"s":"A","x":529,"y":0.689},{"s":"A","x":516,"y":0.678},{"s":"A","x":563,"y":0.652},{"s":"A","x":549,"y":0.647},{"s":"A","x":536,"y":0.654},{"s":"A","x":524,"y":0.649},{"s":"A","x":509,"y":0.65},
{"s":"A","x":706,"y":0.738},{"s":"A","x":693,"y":0.741},{"s":"A","x":681,"y":0.732},{"s":"A","x":668,"y":0.741},{"s":"A","x":655,"y":0.736},{"s":"A","x":700,"y":0.71},{"s":"A","x":687,"y":0.701},{"s":"A","x":674,"y":0.713},{"s":"A","x":661,"y":0.702},{"s":"A","x":708,"y":0.676},{"s":"A","x":694,"y":0.671},{"s":"A","x":681,"y":0.678},{"s":"A","x":669,"y":0.673},{"s":"A","x":654,"y":0.674},
{"s":"B","x":77,"y":0.637},{"s":"B","x":90,"y":0.64},{"s":"B","x":102,"y":0.631},{"s":"B","x":115,"y":0.64},{"s":"B","x":128,"y":0.635},{"s":"B","x":83,"y":0.609},{"s":"B","x":96,"y":0.6},{"s":"B","x":109,"y":0.612},{"s":"B","x":122,"y":0.601},{"s":"B","x":75,"y":0.575},{"s":"B","x":89,"y":0.57},{"s":"B","x":102,"y":0.577},{"s":"B","x":114,"y":0.572},{"s":"B","x":129,"y":0.573},
{"s":"B","x":222,"y":0.647},{"s":"B","x":235,"y":0.65},{"s":"B","x":247,"y":0.641},{"s":"B","x":260,"y":0.65},{"s":"B","x":273,"y":0.645},{"s":"B","x":228,"y":0.619},{"s":"B","x":241,"y":0.61},{"s":"B","x":254,"y":0.622},{"s":"B","x":267,"y":0.611},{"s":"B","x":220,"y":0.585},{"s":"B","x":234,"y":0.58},{"s":"B","x":247,"y":0.587},{"s":"B","x":259,"y":0.582},{"s":"B","x":274,"y":0.583},
{"s":"B","x":366,"y":0.641},{"s":"B","x":379,"y":0.644},{"s":"B","x":391,"y":0.635},{"s":"B","x":404,"y":0.644},{"s":"B","x":417,"y":0.639},{"s":"B","x":372,"y":0.613},{"s":"B","x":385,"y":0.604},{"s":"B","x":398,"y":0.616},{"s":"B","x":411,"y":0.605},{"s":"B","x":364,"y":0.579},{"s":"B","x":378,"y":0.574},{"s":"B","x":391,"y":0.581},{"s":"B","x":403,"y":0.576},{"s":"B","x":418,"y":0.577},
{"s":"B","x":511,"y":0.641},{"s":"B","x":524,"y":0.644},{"s":"B","x":536,"y":0.635},{"s":"B","x":549,"y":0.644},{"s":"B","x":562,"y":0.639},{"s":"B","x":517,"y":0.613},{"s":"B","x":530,"y":0.604},{"s":"B","x":543,"y":0.616},{"s":"B","x":556,"y":0.605},{"s":"B","x":509,"y":0.579},{"s":"B","x":523,"y":0.574},{"s":"B","x":536,"y":0.581},{"s":"B","x":548,"y":0.576},{"s":"B","x":563,"y":0.577},
{"s":"B","x":656,"y":0.641},{"s":"B","x":669,"y":0.644},{"s":"B","x":681,"y":0.635},{"s":"B","x":694,"y":0.644},{"s":"B","x":707,"y":0.639},{"s":"B","x":662,"y":0.613},{"s":"B","x":675,"y":0.604},{"s":"B","x":688,"y":0.616},{"s":"B","x":701,"y":0.605},{"s":"B","x":654,"y":0.579},{"s":"B","x":668,"y":0.574},{"s":"B","x":681,"y":0.581},{"s":"B","x":693,"y":0.576},{"s":"B","x":708,"y":0.577}
],
"pD": [
{"s":"A","x":127,"y":0.632},{"s":"A","x":114,"y":0.635},{"s":"A","x":102,"y":0.628},{"s":"A","x":89,"y":0.635},{"s":"A","x":76,"y":0.631},{"s":"A","x":121,"y":0.608},{"s":"A","x":108,"y":0.6},{"s":"A","x":95,"y":0.611},{"s":"A","x":82,"y":0.602},{"s":"A","x":129,"y":0.579},{"s":"A","x":115,"y":0.575},{"s":"A","x":102,"y":0.581},{"s":"A","x":90,"y":0.576},{"s":"A","x":75,"y":0.578},
{"s":"A","x":272,"y":0.663},{"s":"A","x":259,"y":0.666},{"s":"A","x":247,"y":0.659},{"s":"A","x":234,"y":0.666},{"s":"A","x":221,"y":0.662},{"s":"A","x":266,"y":0.639},{"s":"A","x":253,"y":0.631},{"s":"A","x":240,"y":0.642},{"s":"A","x":227,"y":0.633},{"s":"A","x":274,"y":0.61},{"s":"A","x":260,"y":0.606},{"s":"A","x":247,"y":0.612},{"s":"A","x":235,"y":0.607},{"s":"A","x":220,"y":0.609},
{"s":"A","x":416,"y":0.705},{"s":"A","x":403,"y":0.708},{"s":"A","x":391,"y":0.701},{"s":"A","x":378,"y":0.708},{"s":"A","x":365,"y":0.704},{"s":"A","x":410,"y":0.681},{"s":"A","x":397,"y":0.673},{"s":"A","x":384,"y":0.684},{"s":"A","x":371,"y":0.675},{"s":"A","x":418,"y":0.652},{"s":"A","x":404,"y":0.648},{"s":"A","x":391,"y":0.654},{"s":"A","x":379,"y":0.649},{"s":"A","x":364,"y":0.651},
{"s":"A","x":561,"y":0.727},{"s":"A","x":548,"y":0.73},{"s":"A","x":536,"y":0.723},{"s":"A","x":523,"y":0.73},{"s":"A","x":510,"y":0.726},{"s":"A","x":555,"y":0.703},{"s":"A","x":542,"y":0.695},{"s":"A","x":529,"y":0.706},{"s":"A","x":516,"y":0.697},{"s":"A","x":563,"y":0.674},{"s":"A","x":549,"y":0.67},{"s":"A","x":536,"y":0.676},{"s":"A","x":524,"y":0.671},{"s":"A","x":509,"y":0.673},
{"s":"A","x":706,"y":0.757},{"s":"A","x":693,"y":0.76},{"s":"A","x":681,"y":0.753},{"s":"A","x":668,"y":0.76},{"s":"A","x":655,"y":0.756},{"s":"A","x":700,"y":0.733},{"s":"A","x":687,"y":0.725},{"s":"A","x":674,"y":0.736},{"s":"A","x":661,"y":0.727},{"s":"A","x":708,"y":0.704},{"s":"A","x":694,"y":0.7},{"s":"A","x":681,"y":0.706},{"s":"A","x":669,"y":0.701},{"s":"A","x":654,"y":0.703},
{"s":"B","x":77,"y":0.627},{"s":"B","x":90,"y":0.63},{"s":"B","x":102,"y":0.623},{"s":"B","x":115,"y":0.63},{"s":"B","x":128,"y":0.626},{"s":"B","x":83,"y":0.603},{"s":"B","x":96,"y":0.595},{"s":"B","x":109,"y":0.606},{"s":"B","x":122,"y":0.597},{"s":"B","x":75,"y":0.574},{"s":"B","x":89,"y":0.57},{"s":"B","x":102,"y":0.576},{"s":"B","x":114,"y":0.571},{"s":"B","x":129,"y":0.573},
{"s":"B","x":222,"y":0.64},{"s":"B","x":235,"y":0.643},{"s":"B","x":247,"y":0.636},{"s":"B","x":260,"y":0.643},{"s":"B","x":273,"y":0.639},{"s":"B","x":228,"y":0.616},{"s":"B","x":241,"y":0.608},{"s":"B","x":254,"y":0.619},{"s":"B","x":267,"y":0.61},{"s":"B","x":220,"y":0.587},{"s":"B","x":234,"y":0.583},{"s":"B","x":247,"y":0.589},{"s":"B","x":259,"y":0.584},{"s":"B","x":274,"y":0.586},
{"s":"B","x":366,"y":0.64},{"s":"B","x":379,"y":0.643},{"s":"B","x":391,"y":0.636},{"s":"B","x":404,"y":0.643},{"s":"B","x":417,"y":0.639},{"s":"B","x":372,"y":0.616},{"s":"B","x":385,"y":0.608},{"s":"B","x":398,"y":0.619},{"s":"B","x":411,"y":0.61},{"s":"B","x":364,"y":0.587},{"s":"B","x":378,"y":0.583},{"s":"B","x":391,"y":0.589},{"s":"B","x":403,"y":0.584},{"s":"B","x":418,"y":0.586},
{"s":"B","x":511,"y":0.635},{"s":"B","x":524,"y":0.638},{"s":"B","x":536,"y":0.631},{"s":"B","x":549,"y":0.638},{"s":"B","x":562,"y":0.634},{"s":"B","x":517,"y":0.611},{"s":"B","x":530,"y":0.603},{"s":"B","x":543,"y":0.614},{"s":"B","x":556,"y":0.605},{"s":"B","x":509,"y":0.582},{"s":"B","x":523,"y":0.578},{"s":"B","x":536,"y":0.584},{"s":"B","x":548,"y":0.579},{"s":"B","x":563,"y":0.581},
{"s":"B","x":656,"y":0.633},{"s":"B","x":669,"y":0.636},{"s":"B","x":681,"y":0.629},{"s":"B","x":694,"y":0.636},{"s":"B","x":707,"y":0.632},{"s":"B","x":662,"y":0.609},{"s":"B","x":675,"y":0.601},{"s":"B","x":688,"y":0.612},{"s":"B","x":701,"y":0.603},{"s":"B","x":654,"y":0.58},{"s":"B","x":668,"y":0.576},{"s":"B","x":681,"y":0.582},{"s":"B","x":693,"y":0.577},{"s":"B","x":708,"y":0.579}
]
},
"vconcat": [
{
"width": 757, "height": 248,
"encoding": {
"x": {"field": "x", "type": "quantitative", "scale": {"domain": [0, 757], "nice": false, "zero": false}, "title": "Low ← Number of easy trials → High"},
"y": {"field": "y", "type": "quantitative", "scale": {"domain": [-0.05, 1.1], "nice": false, "zero": false}, "axis": {"values": [0, 0.1, 0.2, 0.3, 0.4, 0.5, 0.6, 0.7, 0.8, 0.9, 1.0], "format": ".1f"}, "title": "Proportion correct"}
},
"layer": [
{"data": {"name": "vA"}, "transform": [{"filter": "datum.s == 'A'"}], "mark": {"type": "area", "orient": "horizontal", "interpolate": "monotone", "fill": "#440154", "fillOpacity": 0.6, "stroke": "#333333", "strokeWidth": 1.6}, "encoding": {"x2": {"field": "b"}, "detail": {"field": "b", "type": "nominal"}}},
{"data": {"name": "vA"}, "transform": [{"filter": "datum.s == 'B'"}], "mark": {"type": "area", "orient": "horizontal", "interpolate": "monotone", "fill": "#B5DE2B", "fillOpacity": 0.5, "stroke": "#333333", "strokeWidth": 1.6}, "encoding": {"x2": {"field": "b"}, "detail": {"field": "b", "type": "nominal"}}},
{"data": {"values": [{"x": 0, "x2": 757, "y": 0.5}]}, "mark": {"type": "rule", "color": "#000000", "strokeWidth": 1.5, "strokeDash": [9, 6]}, "encoding": {"x2": {"field": "x2"}}},
{"data": {"name": "pA"}, "mark": {"type": "circle", "size": 150, "opacity": 1}, "encoding": {"color": {"field": "s", "type": "nominal", "scale": {"domain": ["A", "B"], "range": ["#440154", "#B5DE2B"]}, "legend": {"orient": "none", "legendX": 200, "legendY": 1228, "direction": "horizontal", "title": "Group", "titleOrient": "left", "labelExpr": "'Group ' + datum.label"}}}},
{"data": {"values": [{"x": 102, "y": 0.573, "y2": 0.573}, {"x": 247, "y": 0.592, "y2": 0.582}, {"x": 391, "y": 0.622, "y2": 0.578}, {"x": 536, "y": 0.64, "y2": 0.573}, {"x": 681, "y": 0.656, "y2": 0.575}]}, "mark": {"type": "rule", "color": "#FF0000", "strokeWidth": 2}, "encoding": {"y2": {"field": "y2"}}},
{"data": {"values": [{"x": 102, "y": 0.573}, {"x": 247, "y": 0.592}, {"x": 391, "y": 0.622}, {"x": 536, "y": 0.64}, {"x": 681, "y": 0.656}, {"x": 102, "y": 0.573}, {"x": 247, "y": 0.582}, {"x": 391, "y": 0.578}, {"x": 536, "y": 0.573}, {"x": 681, "y": 0.575}]}, "mark": {"type": "point", "shape": "diamond", "filled": true, "color": "#FF0000", "size": 230, "opacity": 1}},
{"data": {"values": [{"x": 114, "y": 0.966, "t": "p=1.00"}, {"x": 261, "y": 0.966, "t": "p=.523"}, {"x": 406, "y": 0.966, "t": "p=.170"}, {"x": 550, "y": 0.966, "t": "p=.017"}, {"x": 694, "y": 0.966, "t": "p<.001"}]}, "mark": {"type": "text", "fontSize": 20, "align": "center", "baseline": "alphabetic", "color": "#000000"}, "encoding": {"text": {"field": "t", "type": "nominal"}}},
{"data": {"values": [{"x": 37, "y": 1.02, "t": "A"}]}, "mark": {"type": "text", "fontSize": 22, "fontWeight": "bold", "align": "center", "baseline": "alphabetic", "color": "#000000"}, "encoding": {"text": {"field": "t", "type": "nominal"}}}
]
},
{
"width": 757, "height": 248,
"encoding": {
"x": {"field": "x", "type": "quantitative", "scale": {"domain": [0, 757], "nice": false, "zero": false}, "title": "Low ← Number of easy trials → High"},
"y": {"field": "y", "type": "quantitative", "scale": {"domain": [-3.31, 4.34], "nice": false, "zero": false}, "axis": {"values": [-3, -2, -1, 0, 1, 2, 3, 4], "format": "d", "labelExpr": "replace(datum.label, '\u2212', '-')"}, "title": "d'"}
},
"layer": [
{"data": {"name": "vB"}, "transform": [{"filter": "datum.s == 'A'"}], "mark": {"type": "area", "orient": "horizontal", "interpolate": "monotone", "fill": "#440154", "fillOpacity": 0.6, "stroke": "#333333", "strokeWidth": 1.6}, "encoding": {"x2": {"field": "b"}, "detail": {"field": "b", "type": "nominal"}}},
{"data": {"name": "vB"}, "transform": [{"filter": "datum.s == 'B'"}], "mark": {"type": "area", "orient": "horizontal", "interpolate": "monotone", "fill": "#B5DE2B", "fillOpacity": 0.5, "stroke": "#333333", "strokeWidth": 1.6}, "encoding": {"x2": {"field": "b"}, "detail": {"field": "b", "type": "nominal"}}},
{"data": {"name": "pB"}, "mark": {"type": "circle", "size": 150, "opacity": 1}, "encoding": {"color": {"field": "s", "type": "nominal", "scale": {"domain": ["A", "B"], "range": ["#440154", "#B5DE2B"]}, "legend": {"orient": "none", "legendX": 200, "legendY": 1228, "direction": "horizontal", "title": "Group", "titleOrient": "left", "labelExpr": "'Group ' + datum.label"}}}},
{"data": {"values": [{"x": 102, "y": 0.374, "y2": 0.374}, {"x": 247, "y": 0.47, "y2": 0.43}, {"x": 391, "y": 0.652, "y2": 0.378}, {"x": 536, "y": 0.726, "y2": 0.372}, {"x": 681, "y": 0.807, "y2": 0.372}]}, "mark": {"type": "rule", "color": "#FF0000", "strokeWidth": 2}, "encoding": {"y2": {"field": "y2"}}},
{"data": {"values": [{"x": 102, "y": 0.374}, {"x": 247, "y": 0.47}, {"x": 391, "y": 0.652}, {"x": 536, "y": 0.726}, {"x": 681, "y": 0.807}, {"x": 102, "y": 0.374}, {"x": 247, "y": 0.43}, {"x": 391, "y": 0.378}, {"x": 536, "y": 0.372}, {"x": 681, "y": 0.372}]}, "mark": {"type": "point", "shape": "diamond", "filled": true, "color": "#FF0000", "size": 230, "opacity": 1}},
{"data": {"values": [{"x": 114, "y": 3.74, "t": "p=.971"}, {"x": 261, "y": 3.74, "t": "p=.568"}, {"x": 406, "y": 3.74, "t": "p=.177"}, {"x": 550, "y": 3.74, "t": "p=.022"}, {"x": 694, "y": 3.74, "t": "p=.001"}]}, "mark": {"type": "text", "fontSize": 20, "align": "center", "baseline": "alphabetic", "color": "#000000"}, "encoding": {"text": {"field": "t", "type": "nominal"}}},
{"data": {"values": [{"x": 37, "y": 3.79, "t": "B"}]}, "mark": {"type": "text", "fontSize": 22, "fontWeight": "bold", "align": "center", "baseline": "alphabetic", "color": "#000000"}, "encoding": {"text": {"field": "t", "type": "nominal"}}}
]
},
{
"width": 757, "height": 248,
"encoding": {
"x": {"field": "x", "type": "quantitative", "scale": {"domain": [0, 757], "nice": false, "zero": false}, "title": "Low ← Number of easy trials → High"},
"y": {"field": "y", "type": "quantitative", "scale": {"domain": [-0.05, 1.1], "nice": false, "zero": false}, "axis": {"values": [0, 0.1, 0.2, 0.3, 0.4, 0.5, 0.6, 0.7, 0.8, 0.9, 1.0], "format": ".1f"}, "title": "A'"}
},
"layer": [
{"data": {"name": "vC"}, "transform": [{"filter": "datum.s == 'A'"}], "mark": {"type": "area", "orient": "horizontal", "interpolate": "monotone", "fill": "#440154", "fillOpacity": 0.6, "stroke": "#333333", "strokeWidth": 1.6}, "encoding": {"x2": {"field": "b"}, "detail": {"field": "b", "type": "nominal"}}},
{"data": {"name": "vC"}, "transform": [{"filter": "datum.s == 'B'"}], "mark": {"type": "area", "orient": "horizontal", "interpolate": "monotone", "fill": "#B5DE2B", "fillOpacity": 0.5, "stroke": "#333333", "strokeWidth": 1.6}, "encoding": {"x2": {"field": "b"}, "detail": {"field": "b", "type": "nominal"}}},
{"data": {"values": [{"x": 0, "x2": 757, "y": 0.5}]}, "mark": {"type": "rule", "color": "#000000", "strokeWidth": 1.5, "strokeDash": [9, 6]}, "encoding": {"x2": {"field": "x2"}}},
{"data": {"name": "pC"}, "mark": {"type": "circle", "size": 150, "opacity": 1}, "encoding": {"color": {"field": "s", "type": "nominal", "scale": {"domain": ["A", "B"], "range": ["#440154", "#B5DE2B"]}, "legend": {"orient": "none", "legendX": 200, "legendY": 1228, "direction": "horizontal", "title": "Group", "titleOrient": "left", "labelExpr": "'Group ' + datum.label"}}}},
{"data": {"values": [{"x": 102, "y": 0.605, "y2": 0.605}, {"x": 247, "y": 0.63, "y2": 0.615}, {"x": 391, "y": 0.659, "y2": 0.609}, {"x": 536, "y": 0.682, "y2": 0.609}, {"x": 681, "y": 0.706, "y2": 0.609}]}, "mark": {"type": "rule", "color": "#FF0000", "strokeWidth": 2}, "encoding": {"y2": {"field": "y2"}}},
{"data": {"values": [{"x": 102, "y": 0.605}, {"x": 247, "y": 0.63}, {"x": 391, "y": 0.659}, {"x": 536, "y": 0.682}, {"x": 681, "y": 0.706}, {"x": 102, "y": 0.605}, {"x": 247, "y": 0.615}, {"x": 391, "y": 0.609}, {"x": 536, "y": 0.609}, {"x": 681, "y": 0.609}]}, "mark": {"type": "point", "shape": "diamond", "filled": true, "color": "#FF0000", "size": 230, "opacity": 1}},
{"data": {"values": [{"x": 114, "y": 0.961, "t": "p=.938"}, {"x": 261, "y": 0.961, "t": "p=.562"}, {"x": 406, "y": 0.961, "t": "p=.173"}, {"x": 550, "y": 0.961, "t": "p=.021"}, {"x": 694, "y": 0.961, "t": "p=.001"}]}, "mark": {"type": "text", "fontSize": 20, "align": "center", "baseline": "alphabetic", "color": "#000000"}, "encoding": {"text": {"field": "t", "type": "nominal"}}},
{"data": {"values": [{"x": 37, "y": 1.023, "t": "C"}]}, "mark": {"type": "text", "fontSize": 22, "fontWeight": "bold", "align": "center", "baseline": "alphabetic", "color": "#000000"}, "encoding": {"text": {"field": "t", "type": "nominal"}}}
]
},
{
"width": 757, "height": 248,
"encoding": {
"x": {"field": "x", "type": "quantitative", "scale": {"domain": [0, 757], "nice": false, "zero": false}, "title": "Low ← Number of easy trials → High"},
"y": {"field": "y", "type": "quantitative", "scale": {"domain": [-0.05, 1.1], "nice": false, "zero": false}, "axis": {"values": [0, 0.1, 0.2, 0.3, 0.4, 0.5, 0.6, 0.7, 0.8, 0.9, 1.0], "format": ".1f"}, "title": "AUC"}
},
"layer": [
{"data": {"name": "vD"}, "transform": [{"filter": "datum.s == 'A'"}], "mark": {"type": "area", "orient": "horizontal", "interpolate": "monotone", "fill": "#440154", "fillOpacity": 0.6, "stroke": "#333333", "strokeWidth": 1.6}, "encoding": {"x2": {"field": "b"}, "detail": {"field": "b", "type": "nominal"}}},
{"data": {"name": "vD"}, "transform": [{"filter": "datum.s == 'B'"}], "mark": {"type": "area", "orient": "horizontal", "interpolate": "monotone", "fill": "#B5DE2B", "fillOpacity": 0.5, "stroke": "#333333", "strokeWidth": 1.6}, "encoding": {"x2": {"field": "b"}, "detail": {"field": "b", "type": "nominal"}}},
{"data": {"values": [{"x": 0, "x2": 757, "y": 0.5}]}, "mark": {"type": "rule", "color": "#000000", "strokeWidth": 1.5, "strokeDash": [9, 6]}, "encoding": {"x2": {"field": "x2"}}},
{"data": {"name": "pD"}, "mark": {"type": "circle", "size": 150, "opacity": 1}, "encoding": {"color": {"field": "s", "type": "nominal", "scale": {"domain": ["A", "B"], "range": ["#440154", "#B5DE2B"]}, "legend": {"orient": "none", "legendX": 200, "legendY": 1228, "direction": "horizontal", "title": "Group", "titleOrient": "left", "labelExpr": "'Group ' + datum.label"}}}},
{"data": {"values": [{"x": 102, "y": 0.605, "y2": 0.6}, {"x": 247, "y": 0.636, "y2": 0.613}, {"x": 391, "y": 0.678, "y2": 0.613}, {"x": 536, "y": 0.7, "y2": 0.608}, {"x": 681, "y": 0.73, "y2": 0.606}]}, "mark": {"type": "rule", "color": "#FF0000", "strokeWidth": 2}, "encoding": {"y2": {"field": "y2"}}},
{"data": {"values": [{"x": 102, "y": 0.605}, {"x": 247, "y": 0.636}, {"x": 391, "y": 0.678}, {"x": 536, "y": 0.7}, {"x": 681, "y": 0.73}, {"x": 102, "y": 0.6}, {"x": 247, "y": 0.613}, {"x": 391, "y": 0.613}, {"x": 536, "y": 0.608}, {"x": 681, "y": 0.606}]}, "mark": {"type": "point", "shape": "diamond", "filled": true, "color": "#FF0000", "size": 230, "opacity": 1}},
{"data": {"values": [{"x": 114, "y": 0.965, "t": "p=.877"}, {"x": 261, "y": 0.965, "t": "p=.349"}, {"x": 406, "y": 0.965, "t": "p=.034"}, {"x": 550, "y": 0.965, "t": "p<.001"}, {"x": 694, "y": 0.965, "t": "p<.001"}]}, "mark": {"type": "text", "fontSize": 20, "align": "center", "baseline": "alphabetic", "color": "#000000"}, "encoding": {"text": {"field": "t", "type": "nominal"}}},
{"data": {"values": [{"x": 37, "y": 1.027, "t": "D"}]}, "mark": {"type": "text", "fontSize": 22, "fontWeight": "bold", "align": "center", "baseline": "alphabetic", "color": "#000000"}, "encoding": {"text": {"field": "t", "type": "nominal"}}}
]
}
],
"config": {
"view": {"stroke": null},
"font": "Liberation Sans",
"axisY": {"domain": true, "domainColor": "#000000", "domainWidth": 2, "ticks": false, "tickSize": 0, "labelPadding": 10, "labelFontSize": 18, "labelColor": "#4D4D4D", "labelFont": "Liberation Sans", "titleFont": "Liberation Sans", "titleFontSize": 22, "titleFontWeight": "normal", "titleColor": "#000000", "grid": true, "gridColor": "#EBEBEB", "gridWidth": 1.6, "titleX": -44, "titleBaseline": "alphabetic", "titleAngle": 270},
"axisX": {"domain": false, "ticks": false, "labels": false, "grid": false, "titleFont": "Liberation Sans", "titleFontSize": 22, "titleFontWeight": "normal", "titleColor": "#000000", "titlePadding": 9},
"legend": {"titleFont": "Liberation Sans", "titleFontSize": 22, "titleFontWeight": "normal", "titleColor": "#000000", "labelFont": "Liberation Sans", "labelFontSize": 17, "labelColor": "#000000", "symbolSize": 90, "symbolType": "circle", "symbolStrokeWidth": 0, "labelOffset": 20, "columnPadding": 24, "titlePadding": 17}
}
}
